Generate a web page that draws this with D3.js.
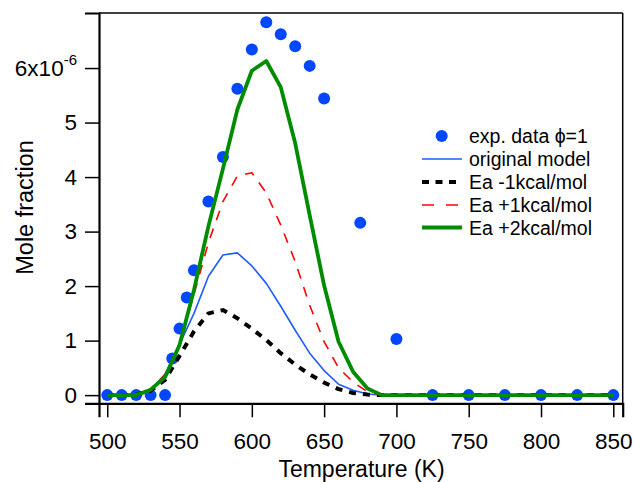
<!DOCTYPE html>
<html><head><meta charset="utf-8">
<script src="https://cdn.jsdelivr.net/npm/d3@7"></script>
<style>body{margin:0;background:#fff}svg{display:block}text{font-family:"Liberation Sans",Arial,sans-serif;fill:#000}</style>
</head><body>
<svg id="c" width="634" height="482"></svg>
<script>
const expT = [500,510,520,530,540,545,550,555,560,570,580,590,600,610,620,630,640,650,675,700,725,750,775,800,825,850];
const expV = [0,0,0,0,0,0.67,1.22,1.79,2.29,3.55,4.37,5.62,6.34,6.84,6.62,6.40,6.04,5.44,3.16,1.03,0,0,0,0,0,0];
const modelT = [500,510,520,530,540,550,560,570,580,590,600,610,620,630,640,650,660,670,680,690,700,850];
const original = [0,0,0.02,0.1,0.38,0.93,1.5,2.18,2.57,2.61,2.37,2.05,1.63,1.19,0.77,0.45,0.2,0.09,0.02,0,0,0];
const eaMinus1 = [0,0,0.01,0.08,0.28,0.72,1.17,1.5,1.56,1.41,1.22,1.01,0.77,0.56,0.38,0.23,0.11,0.04,0.01,0,0,0];
const eaPlus1 = [0,0,0.02,0.1,0.38,0.95,1.85,2.8,3.55,4.02,4.08,3.71,3.12,2.45,1.65,0.98,0.5,0.24,0.06,0,0,0];
const eaPlus2 = [0,0,0,0.1,0.33,0.92,1.93,3.1,4.15,5.24,5.95,6.13,5.65,4.62,3.3,2.01,0.98,0.43,0.12,0,0,0];
const xTicks = [500,550,600,650,700,750,800,850];
const yTicks = [0,1,2,3,4,5,6];
const legendLabels = ["exp. data \u03D5=1","original model","Ea -1kcal/mol","Ea +1kcal/mol","Ea +2kcal/mol"];

const svg = d3.select("#c");
const L=99, R=622.7, T=13, B=403.3;
const x = d3.scaleLinear().domain([494.3,856.5]).range([L,R]);
const y = d3.scaleLinear().domain([-0.15,7.01]).range([B,T]);

// frame
svg.append("line").attr("x1",L).attr("x2",R).attr("y1",T).attr("y2",T).attr("stroke","#000").attr("stroke-width",1.5);
svg.append("line").attr("x1",R).attr("x2",R).attr("y1",T).attr("y2",B).attr("stroke","#000").attr("stroke-width",1.5);

// axes
const xa = svg.append("g").attr("transform",`translate(0,${B})`)
  .call(d3.axisBottom(x).tickValues(xTicks).tickSize(14).tickPadding(16).tickFormat(d3.format("d")));
const ya = svg.append("g").attr("transform",`translate(${L},0)`)
  .call(d3.axisLeft(y).tickValues(yTicks).tickSize(14).tickPadding(8).tickFormat(d=>d===6?"":d));
[xa,ya].forEach(g=>{
  g.select(".domain").attr("stroke-width",2.2).attr("stroke","#000");
  g.selectAll(".tick line").attr("stroke-width",1.5).attr("stroke","#000");
  g.selectAll(".tick text").attr("font-size","22.5px").attr("font-family","Liberation Sans, Arial, sans-serif").attr("fill","#000");
});
// 6x10^-6 label
const t6 = ya.selectAll(".tick").filter(d=>d===6).select("text");
t6.text(null);
t6.append("tspan").text("6x10");
t6.append("tspan").text("-6").attr("font-size","15px").attr("dy","-0.75em");

// titles
svg.append("text").attr("x",361.5).attr("y",477).attr("text-anchor","middle").attr("font-size","23px").text("Temperature (K)");
svg.append("text").attr("transform","translate(33,207.5) rotate(-90)").attr("text-anchor","middle").attr("font-size","23.5px").text("Mole fraction");

// dots
svg.append("g").selectAll("circle").data(expT.map((t,i)=>[t,expV[i]])).join("circle")
  .attr("cx",d=>x(d[0])).attr("cy",d=>y(d[1])).attr("r",6).attr("fill","#0047ff");

const line = d3.line().x(d=>x(d[0])).y(d=>y(d[1]));
const series = [
  {v:original, color:"#1f5cff", w:1.6, dash:null},
  {v:eaMinus1, color:"#000", w:4, dash:"7,7"},
  {v:eaPlus1, color:"#ff0000", w:1.6, dash:"10,9"},
  {v:eaPlus2, color:"#008c00", w:3.8, dash:null}
];
series.forEach(s=>{
  svg.append("path").attr("d",line(modelT.map((t,i)=>[t,s.v[i]])))
    .attr("fill","none").attr("stroke",s.color).attr("stroke-width",s.w)
    .attr("stroke-dasharray",s.dash).attr("stroke-linejoin","round");
});

// legend
const lg = svg.append("g");
const rowY = [136,159,182,205,227.5];
lg.append("circle").attr("cx",441.7).attr("cy",rowY[0]).attr("r",6).attr("fill","#0047ff");
series.forEach((s,i)=>{
  lg.append("line").attr("x1",422).attr("x2",462).attr("y1",rowY[i+1]).attr("y2",rowY[i+1])
    .attr("stroke",s.color).attr("stroke-width",s.w).attr("stroke-dasharray",s.dash===null?null:(i===1?"7,6.5":"12,12"));
});
legendLabels.forEach((t,i)=>{
  lg.append("text").attr("x",469).attr("y",rowY[i]+7).attr("font-size","19.5px").text(t);
});
</script>
</body></html>
